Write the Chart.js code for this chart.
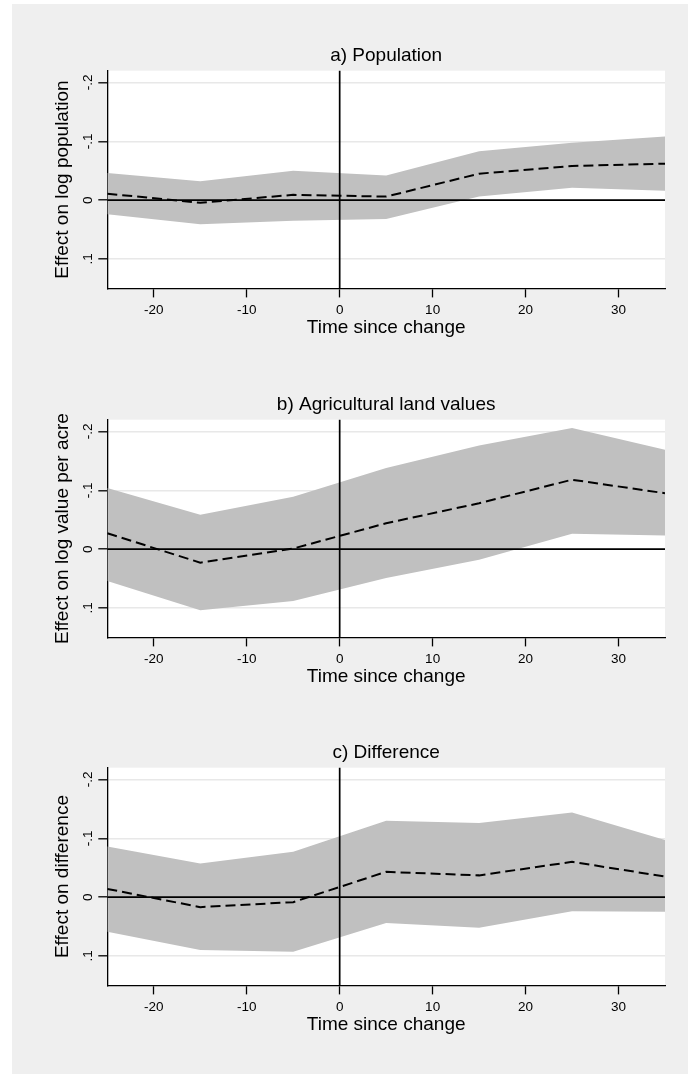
<!DOCTYPE html>
<html>
<head>
<meta charset="utf-8">
<script src="https://cdn.jsdelivr.net/npm/chart.js@4/dist/chart.umd.min.js"></script>
<style>
  html, body { margin: 0; padding: 0; background: #fff; overflow: hidden; }
  #page { position: absolute; left: 12px; top: 4px; width: 676px; height: 1070px; background: #efefef; }
  canvas { position: absolute; left: 0; }
</style>
</head>
<body>
<div id="page"></div>
<canvas id="popChart" width="689" height="300" style="top:40px"></canvas>
<canvas id="landChart" width="689" height="300" style="top:388.6px"></canvas>
<canvas id="diffChart" width="689" height="300" style="top:737px"></canvas>

<script>
// time since change (x of each estimate)
const timePoints = [-25, -15, -5, 5, 15, 25, 35];
const xTicks = [-20, -10, 0, 10, 20, 30];
const yTicks = [-0.2, -0.1, 0, 0.1];
const yTickLabels = ['-.2', '-.1', '0', '.1'];

// a) Population
const popEstimate = [-0.011, 0.0045, -0.009, -0.006, -0.045, -0.058, -0.062];
const popUpper = [-0.046, -0.032, -0.050, -0.042, -0.083, -0.0975, -0.108];
const popLower = [0.024, 0.041, 0.035, 0.032, -0.006, -0.021, -0.016];

// b) Agricultural land values
const landEstimate = [-0.027, 0.023, -0.001, -0.044, -0.078, -0.118, -0.095];
const landUpper = [-0.104, -0.0585, -0.089, -0.138, -0.176, -0.206, -0.169];
const landLower = [0.054, 0.104, 0.088, 0.049, 0.018, -0.026, -0.023];

// c) Difference
const diffEstimate = [-0.014, 0.017, 0.0085, -0.043, -0.037, -0.060, -0.035];
const diffUpper = [-0.086, -0.057, -0.077, -0.130, -0.126, -0.144, -0.097];
const diffLower = [0.059, 0.090, 0.093, 0.044, 0.052, 0.024, 0.025];

const FONT = '"Liberation Sans", Arial, Helvetica, sans-serif';
Chart.defaults.font.family = FONT;
Chart.defaults.color = '#000';

const toPoints = (vals) => timePoints.map((t, i) => ({ x: t, y: vals[i] }));

// white plot region, zero reference lines, rotated y labels
const panelDecor = {
  id: 'panelDecor',
  beforeDraw(chart) {
    const { ctx, chartArea: a } = chart;
    ctx.save();
    ctx.fillStyle = '#fff';
    ctx.fillRect(a.left, a.top, a.right - a.left, a.bottom - a.top);
    ctx.restore();
  },
  afterDatasetDraw(chart, args) {
    if (args.index !== 1) return; // right after the band
    const { ctx, chartArea: a, scales } = chart;
    const y0 = scales.y.getPixelForValue(0);
    const x0 = scales.x.getPixelForValue(0);
    ctx.save();
    ctx.strokeStyle = '#000';
    ctx.lineWidth = 1.7;
    ctx.beginPath();
    ctx.moveTo(a.left, y0);
    ctx.lineTo(a.right, y0);
    ctx.moveTo(x0, a.top);
    ctx.lineTo(x0, a.bottom);
    ctx.stroke();
    ctx.restore();
  },
  afterDraw(chart, args, opts) {
    const { ctx, chartArea: a, scales } = chart;
    ctx.save();
    ctx.fillStyle = '#000';
    ctx.textAlign = 'center';
    ctx.textBaseline = 'middle';
    ctx.font = '13.5px ' + FONT;
    yTicks.forEach((v, i) => {
      const py = scales.y.getPixelForValue(v);
      ctx.save();
      ctx.translate(a.left - 19, py);
      ctx.rotate(-Math.PI / 2);
      ctx.fillText(yTickLabels[i], 0, 0);
      ctx.restore();
    });
    ctx.font = '19px ' + FONT;
    ctx.translate(63, (a.top + a.bottom) / 2);
    ctx.rotate(-Math.PI / 2);
    ctx.fillText(opts.yTitle, 0, 0);
    ctx.restore();
  }
};

function makePanel(id, title, yTitle, estimate, upper, lower) {
  const ctx = document.getElementById(id);
  if (!ctx) return;

  new Chart(ctx, {
    type: 'line',
    data: {
      datasets: [
        {
          label: 'Estimate',
          data: toPoints(estimate),
          borderColor: '#000',
          borderWidth: 2,
          borderDash: [10, 5],
          pointRadius: 0,
          fill: false,
          tension: 0
        },
        {
          label: 'Upper',
          data: toPoints(upper),
          borderColor: 'transparent',
          backgroundColor: '#c0c0c0',
          pointRadius: 0,
          fill: '+1',
          tension: 0
        },
        {
          label: 'Lower',
          data: toPoints(lower),
          borderColor: 'transparent',
          pointRadius: 0,
          fill: false,
          tension: 0
        }
      ]
    },
    options: {
      responsive: false,
      animation: false,
      events: [],
      layout: { padding: { left: 98.3, right: 24, top: 0, bottom: 0 } },
      plugins: {
        legend: { display: false },
        tooltip: { enabled: false },
        title: {
          display: true,
          text: title,
          fullSize: false,
          color: '#000',
          font: { size: 19, weight: 'normal' },
          padding: { top: 4.6, bottom: 3.3 }
        },
        panelDecor: { yTitle: yTitle }
      },
      scales: {
        x: {
          type: 'linear',
          min: -25,
          max: 35,
          afterBuildTicks: (s) => { s.ticks = xTicks.map(v => ({ value: v })); },
          grid: { drawOnChartArea: false, tickLength: 9, tickColor: '#000', tickWidth: 1.3 },
          border: { color: '#000', width: 1.3 },
          ticks: { font: { size: 13.5, lineHeight: 1 }, padding: 6.1, maxRotation: 0 },
          title: {
            display: true,
            text: 'Time since change',
            font: { size: 19, lineHeight: 1 },
            padding: { top: -5.3, bottom: 3.2 }
          }
        },
        y: {
          type: 'linear',
          reverse: true,
          min: -0.22,
          max: 0.15,
          afterBuildTicks: (s) => { s.ticks = yTicks.map(v => ({ value: v })); },
          grid: { color: '#e8e8e8', lineWidth: 1.6, tickLength: 9, tickColor: '#000', tickWidth: 1.3 },
          border: { color: '#000', width: 1.3 },
          ticks: { display: false }
        }
      }
    },
    plugins: [panelDecor]
  });
}

document.addEventListener('DOMContentLoaded', () => {
  makePanel('popChart', 'a) Population', 'Effect on log population', popEstimate, popUpper, popLower);
  makePanel('landChart', 'b) Agricultural land values', 'Effect on log value per acre', landEstimate, landUpper, landLower);
  makePanel('diffChart', 'c) Difference', 'Effect on difference', diffEstimate, diffUpper, diffLower);
});
</script>
</body>
</html>
